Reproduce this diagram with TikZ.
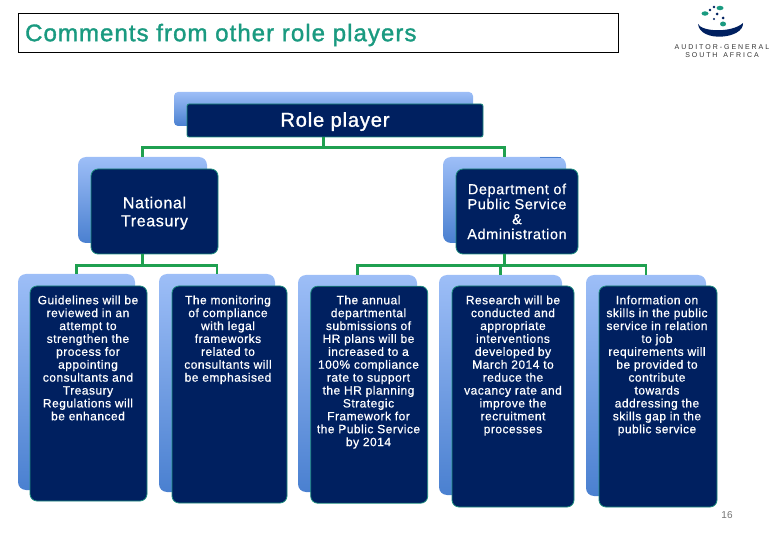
\documentclass[tikz,border=0pt]{standalone}
\usepackage{fontspec}
\setmainfont{Liberation Sans}
\newfontfamily\slidefont[LetterSpace=4,FakeBold=0.6]{Liberation Sans}
\newfontfamily\titlefont[LetterSpace=4.4,FakeBold=1.4]{Liberation Sans}
\usepackage{tikz}
\usetikzlibrary{positioning}
\definecolor{navybox}{HTML}{002060}
\definecolor{tealedge}{HTML}{1F8F7F}
\definecolor{linkgreen}{HTML}{1FA050}
\definecolor{titleteal}{HTML}{1A9A80}
\definecolor{panellight}{HTML}{9DBEF7}
\definecolor{paneldark}{HTML}{4A80D0}
\tikzset{
  frontbox/.style={draw=tealedge, line width=0.8pt, fill=navybox, rounded corners=7pt, text=white, align=center, inner sep=0pt},
  backbox/.style={rounded corners=8pt, top color=panellight, middle color=panellight, bottom color=paneldark, inner sep=0pt},
  leaftext/.style={font=\slidefont\fontsize{12}{12.9}\selectfont, text=white, align=center, anchor=north},
  link/.style={draw=linkgreen, line width=2.6pt}
}

\begin{document}
\begin{tikzpicture}[x=1pt,y=-1pt]
\useasboundingbox (0,0) rectangle (780,540);

% Title
\node[draw=black, line width=0.7pt, minimum width=600pt, minimum height=39pt, anchor=north west] (titlebox) at (18,13) {};
\node[text=titleteal, font=\titlefont\fontsize{24}{24}\selectfont, anchor=west, inner sep=0pt] (title) at (25,35) {Comments from other role players};

% Logo
\fill[titleteal] (705,13.5) ellipse (3.5pt and 2.2pt) (720,8) ellipse (3.5pt and 2.2pt) (723,24) ellipse (3pt and 2.5pt);
\fill[navybox] (710,10) circle (1.4pt) (714,7) circle (1.4pt) (717,14) circle (1.5pt) (723,18) circle (1.5pt) (714,19) circle (1.2pt);
\fill[navybox] (698,24) .. controls (702,32) and (732,33) .. (743,23) .. controls (744,39) and (700,43) .. (698,24);
\node[font=\fontsize{7}{8}\selectfont, align=center, text=black!80] (logotext) at (722,51) {A U D I T O R - G E N E R A L\\S O U T H \ \ A F R I C A};

% Role player
\node[backbox, minimum width=299pt, minimum height=34pt, rounded corners=4pt] (roleback) at (323.5,109) {};
\node[frontbox, minimum width=296pt, minimum height=33pt, rounded corners=2pt, text depth=2pt, font=\titlefont\fontsize{20}{22}\selectfont] (role) at (335,120.5) {Role player};

% National Treasury
\node[backbox, minimum width=129pt, minimum height=86pt] (treasuryback) at (142.5,200) {};
\node[frontbox, minimum width=127pt, minimum height=85pt, text depth=0pt, font=\slidefont\fontsize{16}{18}\selectfont] (treasury) at (154.5,211.5) {National\\Treasury};

% Department
\node[backbox, minimum width=123pt, minimum height=86pt] (dpsaback) at (504.5,200) {};
\fill[paneldark] (540,156.8) rectangle (561,158);
\node[frontbox, minimum width=122pt, minimum height=85pt, font=\slidefont\fontsize{14.5}{15}\selectfont] (dpsa) at (517,211.5) {Department of\\Public Service\\\&\\Administration};

% Leaf boxes, left
\node[backbox, minimum width=117pt, minimum height=216pt] (guideback) at (76.5,382) {};
\node[frontbox, minimum width=117pt, minimum height=215pt] (guide) at (88.5,393.5) {};
\node[leaftext] (guidetext) at (88,292) {Guidelines will be\\reviewed in an\\attempt to\\strengthen the\\process for\\appointing\\consultants and\\Treasury\\Regulations will\\be enhanced};

\node[backbox, minimum width=116pt, minimum height=218pt] (monitorback) at (217,383) {};
\node[frontbox, minimum width=115pt, minimum height=217pt] (monitor) at (229.5,394.5) {};
\node[leaftext] (monitortext) at (228,292) {The monitoring\\of compliance\\with legal\\frameworks\\related to\\consultants will\\be emphasised};

% Leaf boxes, right
\node[backbox, minimum width=119pt, minimum height=217pt] (annualback) at (357.5,383.5) {};
\node[frontbox, minimum width=117pt, minimum height=217pt] (annual) at (369.2,394.7) {};
\node[leaftext] (annualtext) at (368.5,292) {The annual\\departmental\\submissions of\\HR plans will be\\increased to a\\100\% compliance\\rate to support\\the HR planning\\Strategic\\Framework for\\the Public Service\\by 2014};

\node[backbox, minimum width=123pt, minimum height=220pt] (researchback) at (500.5,385) {};
\node[frontbox, minimum width=122pt, minimum height=221pt] (research) at (513,396.5) {};
\node[leaftext] (researchtext) at (513,292) {Research will be\\conducted and\\appropriate\\interventions\\developed by\\March 2014 to\\reduce the\\vacancy rate and\\improve the\\recruitment\\processes};

\node[backbox, minimum width=120pt, minimum height=221pt] (skillsback) at (646,385.5) {};
\node[frontbox, minimum width=118pt, minimum height=221pt] (skills) at (658,396.5) {};
\node[leaftext] (skillstext) at (657,292) {Information on\\skills in the public\\service in relation\\to job\\requirements will\\be provided to\\contribute\\towards\\addressing the\\skills gap in the\\public service};

% Connectors
\draw[link] (role.south -| roleback.center) -- ++(0,10) coordinate (roleknee);
\draw[link] (treasuryback.north) |- (roleknee) -| (dpsaback.north);
\draw[link] (treasury.south -| treasuryback.center) -- ++(0,11) coordinate (treasuryknee);
\draw[link] (guideback.north) |- (treasuryknee) -| (monitorback.north);
\draw[link] (dpsa.south -| dpsaback.center) -- ++(0,11) coordinate (dpsaknee);
\draw[link] (annualback.north) |- (dpsaknee) -| (skillsback.north);
\draw[link] (researchback.north |- dpsaknee) -- (researchback.north);

% Page number
\node[text=black!55, font=\fontsize{10}{12}\selectfont] (pagenum) at (727,515) {16};
\end{tikzpicture}
\end{document}
